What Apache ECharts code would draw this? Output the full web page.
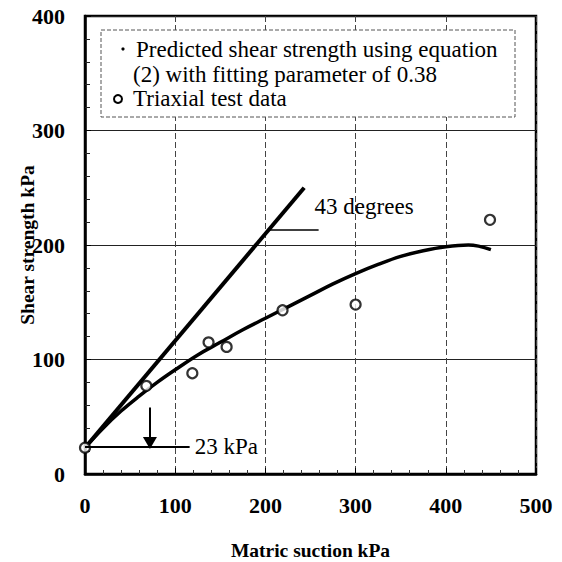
<!DOCTYPE html>
<html>
<head>
<meta charset="utf-8">
<script src="https://cdn.jsdelivr.net/npm/echarts@6/dist/echarts.min.js"></script>
<style>html,body{margin:0;padding:0;background:#fff;}#c{width:562px;height:562px;}</style>
</head>
<body>
<div id="c"></div>
<script>
// Predicted curve (equation 2, fitting parameter 0.38)
const curveX = [0, 20, 40, 60, 80, 100, 125, 150, 175, 200, 225, 250, 275, 300, 325, 350, 375, 400, 425, 450];
const curveY = [23, 40, 55, 68, 80, 91, 104, 115, 126, 136, 146, 156, 166, 175, 183, 190, 195, 198.5, 200, 196];
// Triaxial test data
const testX = [0, 68, 119, 137, 157, 219, 300, 449];
const testY = [23, 77, 88, 115, 111, 143, 148, 222];
// 43 degree line
const lineX = [0, 243];
const lineY = [23, 250];
const xTicks = [0, 100, 200, 300, 400, 500];
const yTicks = [0, 100, 200, 300, 400];

const FONT = 'Liberation Serif';
const chart = echarts.init(document.getElementById('c'), null, {renderer: 'svg'});
const zip = (a, b) => a.map((v, i) => [v, b[i]]);

chart.setOption({
  animation: false,
  backgroundColor: '#fff',
  grid: {left: 85, right: 26, top: 16, bottom: 88, containLabel: false, outerBoundsMode: 'none', show: true, borderColor: '#000', borderWidth: 2.5, backgroundColor: 'transparent'},
  xAxis: {
    type: 'value', min: xTicks[0], max: xTicks[xTicks.length - 1], interval: 100,
    name: 'Matric suction kPa', nameLocation: 'middle', nameGap: 66, nameMoveOverlap: false,
    nameTextStyle: {fontFamily: FONT, fontWeight: 'bold', fontSize: 19.5, color: '#000'},
    axisLine: {lineStyle: {color: '#000', width: 2.5}},
    axisTick: {show: true, inside: true, length: 6, lineStyle: {color: '#000', width: 1}},
    minorTick: {show: true, splitNumber: 5, length: 4, lineStyle: {color: '#333', width: 1}},
    axisLabel: {fontFamily: FONT, fontWeight: 'bold', fontSize: 22, color: '#000', margin: 20},
    splitLine: {show: true, lineStyle: {color: '#444', width: 1, type: [6, 3]}}
  },
  yAxis: {
    type: 'value', min: yTicks[0], max: yTicks[yTicks.length - 1], interval: 100,
    name: 'Shear strength kPa', nameLocation: 'middle', nameGap: 48, nameMoveOverlap: false,
    nameTextStyle: {fontFamily: FONT, fontWeight: 'bold', fontSize: 19.5, color: '#000'},
    axisLine: {lineStyle: {color: '#000', width: 2.5}},
    axisTick: {show: true, inside: true, length: 6, lineStyle: {color: '#000', width: 1}},
    minorTick: {show: true, splitNumber: 5, length: 5, lineStyle: {color: '#222', width: 1}},
    axisLabel: {fontFamily: FONT, fontWeight: 'bold', fontSize: 22, color: '#000', margin: 20},
    splitLine: {show: true, lineStyle: {color: '#222', width: 1}}
  },
  series: [
    {
      type: 'line', data: zip(lineX, lineY), showSymbol: false, symbol: 'none',
      lineStyle: {color: '#000', width: 4}, z: 3,
      markPoint: {
        symbol: 'circle', symbolSize: 1, itemStyle: {color: 'transparent'},
        data: [{coord: [254, 234], label: {show: true, formatter: '43 degrees', position: 'right', distance: 0, fontFamily: FONT, fontSize: 23, color: '#000'}}]
      },
      markLine: {
        silent: true, symbol: ['none', 'none'],
        lineStyle: {color: '#000', width: 1.5, type: 'solid'},
        label: {show: false},
        data: [[{coord: [205, 213]}, {coord: [259, 213]}]]
      }
    },
    {
      type: 'line', data: zip(curveX, curveY), smooth: 0.4, showSymbol: false, symbol: 'none',
      lineStyle: {color: '#000', width: 3.5}, z: 3,
      markLine: {
        silent: true, symbol: ['none', 'none'], animation: false,
        lineStyle: {color: '#000', width: 2, type: 'solid'},
        data: [
          [{coord: [0, 24]}, {coord: [116, 24], label: {show: true, formatter: '23 kPa', position: 'end', distance: 5, fontFamily: FONT, fontSize: 23, color: '#000'}}],
          [{coord: [72, 58], symbol: 'none', label: {show: false}}, {coord: [72, 27], symbol: 'triangle', symbolSize: [14, 12], label: {show: false}}]
        ]
      }
    },
    {
      type: 'scatter', data: zip(testX, testY), symbol: 'circle', symbolSize: 10,
      itemStyle: {color: '#fff', borderColor: '#000', borderWidth: 2.2}, z: 4
    }
  ],
  graphic: [
    {type: 'rect', z: 100, shape: {x: 101, y: 30, width: 414, height: 87}, style: {fill: '#fff', stroke: '#555', lineWidth: 1, lineDash: [4, 2]}},
    {type: 'circle', z: 101, shape: {cx: 123, cy: 49, r: 1.6}, style: {fill: '#000'}},
    {type: 'text', z: 101, style: {x: 136, y: 49, text: 'Predicted shear strength using equation', font: '23px "Liberation Serif"', fill: '#000', verticalAlign: 'middle'}},
    {type: 'text', z: 101, style: {x: 133, y: 74, text: '(2) with fitting parameter of 0.38', font: '23px "Liberation Serif"', fill: '#000', verticalAlign: 'middle'}},
    {type: 'circle', z: 101, shape: {cx: 118, cy: 99, r: 4}, style: {fill: '#fff', stroke: '#000', lineWidth: 2}},
    {type: 'text', z: 101, style: {x: 133, y: 98, text: 'Triaxial test data', font: '23px "Liberation Serif"', fill: '#000', verticalAlign: 'middle'}}
  ]
});
</script>
</body>
</html>
